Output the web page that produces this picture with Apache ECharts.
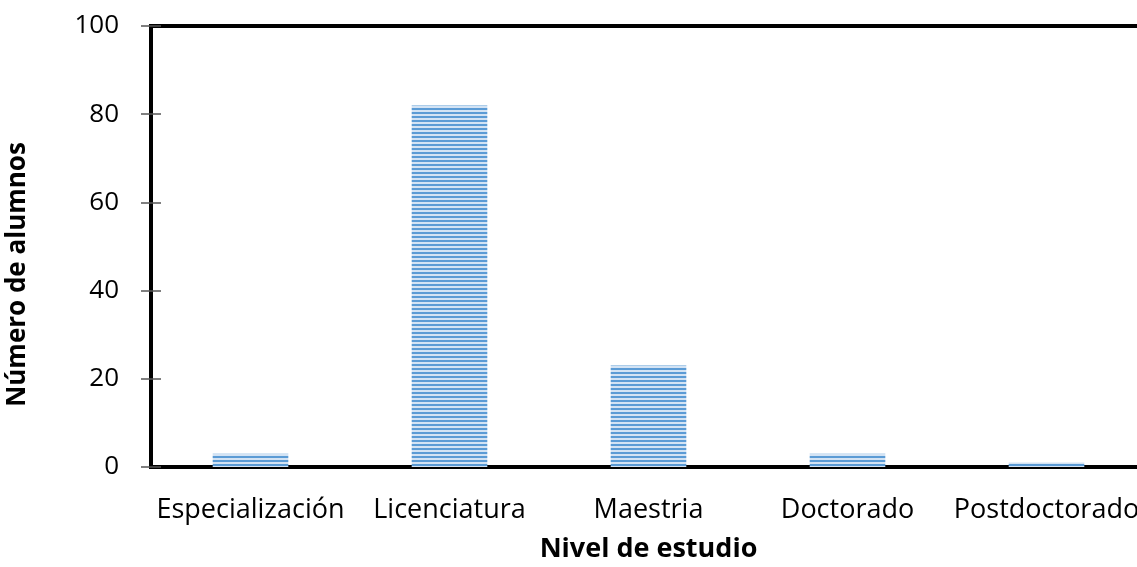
<!DOCTYPE html>
<html>
<head>
<meta charset="utf-8">
<script src="https://cdn.jsdelivr.net/npm/echarts@6/dist/echarts.min.js"></script>
<style>
  html, body { margin: 0; padding: 0; background: #fff; }
  #chart { width: 1137px; height: 567px; }
</style>
</head>
<body>
<div id="chart"></div>
<script>
// Students by level of study
const categories = ['Especialización', 'Licenciatura', 'Maestria', 'Doctorado', 'Postdoctorado'];
const alumnos = [3, 82, 23, 3, 1];
const yTicks = [0, 20, 40, 60, 80, 100];

// Horizontal-stripe fill for the bars
function stripePattern() {
  const c = document.createElement('canvas');
  c.width = 8; c.height = 4;
  const g = c.getContext('2d');
  g.fillStyle = '#d3e3f4';
  g.fillRect(0, 0, 8, 4);
  g.fillStyle = '#5b9bd5';
  g.fillRect(0, 0, 8, 2);
  return c;
}

const chart = echarts.init(document.getElementById('chart'), null, { renderer: 'canvas' });
const font = '"Open Sans", sans-serif';

chart.setOption({
  animation: false,
  grid: {
    left: 151, top: 26, width: 995, height: 441,
    outerBoundsMode: 'none',
    containLabel: false,
    show: true, borderColor: '#000', borderWidth: 4, backgroundColor: 'transparent'
  },
  xAxis: {
    type: 'category',
    data: categories,
    axisLine: { show: true, lineStyle: { color: '#000', width: 4 } },
    axisTick: { show: false },
    axisLabel: { color: '#000', fontSize: 27, fontFamily: font, margin: 30, interval: 0, hideOverlap: false },
    name: 'Nivel de estudio',
    nameLocation: 'middle',
    nameGap: 69,
    nameTextStyle: { color: '#000', fontSize: 27, fontWeight: 'bold', fontFamily: font, verticalAlign: 'top' },
    splitLine: { show: false }
  },
  yAxis: [{
    type: 'value',
    min: yTicks[0], max: yTicks[yTicks.length - 1], interval: 20,
    axisLine: { show: true, lineStyle: { color: '#000', width: 4 } },
    axisTick: { show: true, length: 10, lineStyle: { color: '#555', width: 1.5 } },
    axisLabel: { color: '#000', fontSize: 26, fontFamily: font, margin: 32 },
    splitLine: { show: false },
    name: 'Número de alumnos',
    nameLocation: 'middle',
    nameGap: 120,
    nameRotate: 90,
    nameTextStyle: { color: '#000', fontSize: 26, fontWeight: 'bold', fontFamily: font, padding: [0, 56, 0, 0] }
  }, {
    type: 'value',
    position: 'left',
    min: yTicks[0], max: yTicks[yTicks.length - 1], interval: 20,
    axisLine: { show: false },
    axisTick: { show: true, inside: true, length: 10, lineStyle: { color: '#555', width: 1.5 } },
    axisLabel: { show: false },
    splitLine: { show: false }
  }],
  series: [{
    type: 'bar',
    data: alumnos,
    barWidth: '38%',
    itemStyle: {
      color: { image: stripePattern(), repeat: 'repeat' }
    }
  }]
});
</script>
</body>
</html>
